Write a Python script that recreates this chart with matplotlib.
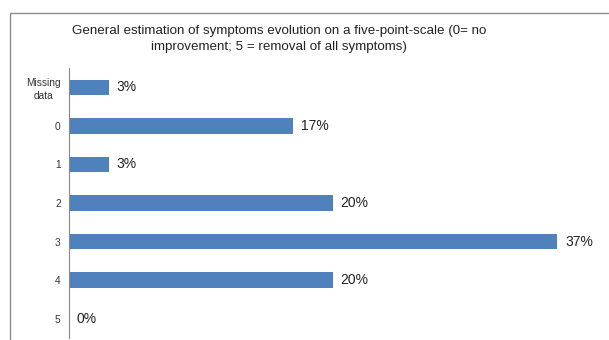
import matplotlib.pyplot as plt
from matplotlib.patches import Rectangle

plt.rcParams['font.family'] = ['Liberation Sans', 'DejaVu Sans']

categories = ['Missing\ndata', '0', '1', '2', '3', '4', '5']
values = [3, 17, 3, 20, 37, 20, 0]
labels = ['3%', '17%', '3%', '20%', '37%', '20%', '0%']

W, H = 609, 340
fig = plt.figure(figsize=(W / 100, H / 100), dpi=100)

# chart-area border (runs off the right and bottom edges)
fig.patches.append(Rectangle((10 / W, -0.1), 1.2, 1 - 13 / H + 0.1,
                             transform=fig.transFigure, fill=False,
                             edgecolor='#8c8c8c', linewidth=1.0))

ax = fig.add_axes([69 / W, 2 / H, (597 - 69) / W, (338 - 68) / H])
pos = list(range(len(categories)))
ax.barh(pos, values, height=0.4, color='#4F81BD')
ax.set_ylim(len(categories) - 0.5, -0.5)
ax.set_xlim(0, 40)
ax.set_yticks(pos)
ax.set_yticklabels(categories, fontsize=7.3, color='#333333', linespacing=1.4)
for t in ax.get_yticklabels():
    t.set_multialignment('center')
ax.tick_params(axis='y', length=0, pad=6)
ax.set_xticks([])
for s in ['top', 'right', 'bottom']:
    ax.spines[s].set_visible(False)
ax.spines['left'].set_color('#888888')
ax.patch.set_alpha(0)

for p, v, t in zip(pos, values, labels):
    ax.annotate(t, (v, p), xytext=(5.5, 0), textcoords='offset points',
                va='center', ha='left', fontsize=10, color='#222222')

fig.text(279 / W, 1 - 39 / H,
         'General estimation of symptoms evolution on a five-point-scale (0= no\n'
         'improvement; 5 = removal of all symptoms)',
         ha='center', va='center', fontsize=9.6, color='#222222', linespacing=1.45)

fig.savefig('out.png', dpi=100)
